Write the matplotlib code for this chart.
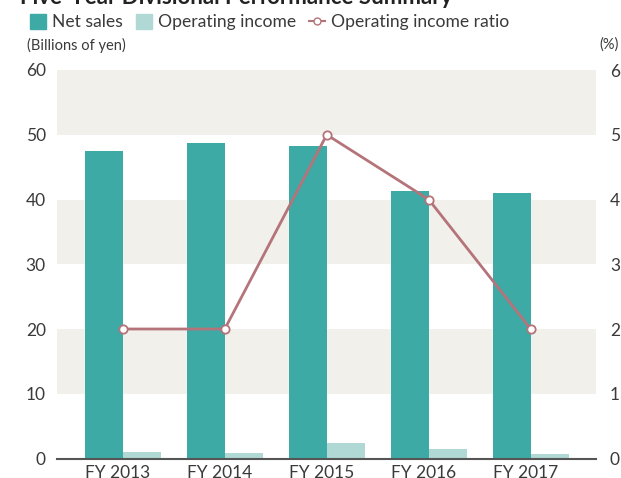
import matplotlib
matplotlib.use("Agg")
import matplotlib.pyplot as plt
from matplotlib.patches import Patch
from matplotlib.lines import Line2D
import numpy as np

years = ["FY 2013", "FY 2014", "FY 2015", "FY 2016", "FY 2017"]
net_sales = [47.5, 48.8, 48.3, 41.3, 41.0]
operating_income = [1.0, 0.8, 2.4, 1.4, 0.7]
income_ratio = [2, 2, 5, 4, 2]

teal = "#3daaa6"
light_teal = "#b0d8d4"
rose = "#b5737a"
band = "#f2f0eb"
text_col = "#3a3a3a"

plt.rcParams["font.family"] = ["Lato", "DejaVu Sans"]

fig = plt.figure(figsize=(6.21, 4.78), dpi=100)
ax = fig.add_axes([57 / 621, 1 - 458.5 / 478, 539 / 621, 388.5 / 478])

x = np.arange(len(years))
w = 0.373
for lo in (10, 30, 50):
    ax.axhspan(lo, lo + 10, color=band, zorder=0, lw=0)
ax.bar(x - w / 2, net_sales, w, color=teal, zorder=2)
ax.bar(x + w / 2, operating_income, w, color=light_teal, zorder=2)

ax.set_xlim(-0.645, 4.64)
ax.set_ylim(0, 60)
ax.set_yticks(range(0, 61, 10))
ax.set_xticks(x - 0.05)
ax.set_xticklabels(years)
for s in ("top", "left", "right"):
    ax.spines[s].set_visible(False)
ax.spines["bottom"].set_color("#555555")
ax.spines["bottom"].set_linewidth(1.5)
ax.spines["bottom"].set_zorder(3)
ax.tick_params(axis="y", length=0, pad=8, labelsize=12.5, labelcolor=text_col)
ax.tick_params(axis="x", length=0, pad=5, labelsize=12.5, labelcolor=text_col)

ax2 = ax.twinx()
ax2.plot(x, income_ratio, color=rose, lw=2, marker="o", ms=6,
         mfc="white", mec=rose, mew=1.3, zorder=4)
ax2.set_ylim(0, 6)
ax2.set_yticks(range(0, 7))
for s in ("top", "left", "right", "bottom"):
    ax2.spines[s].set_visible(False)
ax2.tick_params(axis="y", length=0, pad=10, labelsize=12.5, labelcolor=text_col)

fig.text(20 / 621, 1 - 4 / 478, "Five-Year Divisional Performance Summary",
         fontsize=16, fontweight="bold", color="#222222", va="baseline")
fig.text(27 / 621, 1 - 45 / 478, "(Billions of yen)", fontsize=10.5,
         color=text_col, va="center")
fig.text(619 / 621, 1 - 45 / 478, "(%)", fontsize=10.5, color=text_col,
         va="center", ha="right")

handles = [
    Patch(color=teal),
    Patch(color=light_teal),
    Line2D([], [], color=rose, lw=1.5, marker="o", ms=5, mfc="white", mec=rose),
]
fig.legend(handles, ["Net sales", "Operating income", "Operating income ratio"],
           loc="upper left", bbox_to_anchor=(30 / 621, 1 - 14 / 478), ncol=3,
           frameon=False, fontsize=12.6, handlelength=0.9, handleheight=0.9,
           handletextpad=0.35, columnspacing=0.75, borderpad=0,
           borderaxespad=0, labelcolor=text_col)

fig.savefig("out.png", dpi=100)
